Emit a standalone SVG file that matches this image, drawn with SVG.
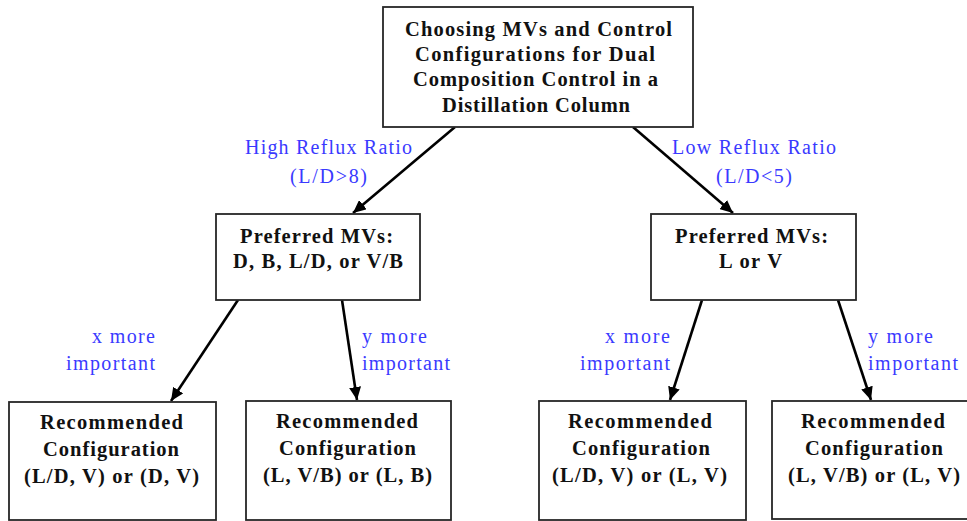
<svg xmlns="http://www.w3.org/2000/svg" width="967" height="521" viewBox="0 0 967 521">
<defs>
<style>
.box{fill:#fff;stroke:#262626;stroke-width:1.8}
.t{font-family:"Liberation Serif","Times New Roman",serif;font-weight:bold;font-size:20.5px;fill:#111;text-anchor:middle}
.l{font-family:"Liberation Serif","Times New Roman",serif;font-size:20px;fill:#3a3aff}
.c{stroke:#000;stroke-width:2.6;fill:none;marker-end:url(#ah)}
</style>
<marker id="ah" markerUnits="userSpaceOnUse" markerWidth="14" markerHeight="12" refX="13" refY="6" orient="auto">
<path d="M0,0 L13,6 L0,12 z" fill="#000"/>
</marker>
</defs>
<rect width="967" height="521" fill="#fff"/>
<g id="connectors">
<line class="c" x1="455" y1="127" x2="353" y2="213"/>
<line class="c" x1="633" y1="127" x2="733" y2="213"/>
<line class="c" x1="238" y1="300" x2="171" y2="401"/>
<line class="c" x1="342" y1="300" x2="357" y2="400"/>
<line class="c" x1="702" y1="300" x2="670" y2="400"/>
<line class="c" x1="838" y1="300" x2="871" y2="400"/>
</g>
<g id="labels">
<text class="l" x="245" y="154" textLength="167" lengthAdjust="spacing">High Reflux Ratio</text>
<text class="l" x="290" y="183" textLength="77" lengthAdjust="spacing">(L/D&gt;8)</text>
<text class="l" x="672" y="154" textLength="164" lengthAdjust="spacing">Low Reflux Ratio</text>
<text class="l" x="716" y="183" textLength="76" lengthAdjust="spacing">(L/D&lt;5)</text>
<text class="l" x="92" y="343" textLength="63" lengthAdjust="spacing">x more</text>
<text class="l" x="66" y="370" textLength="89" lengthAdjust="spacing">important</text>
<text class="l" x="362" y="343" textLength="65" lengthAdjust="spacing">y more</text>
<text class="l" x="362" y="370" textLength="88" lengthAdjust="spacing">important</text>
<text class="l" x="605" y="343" textLength="65" lengthAdjust="spacing">x more</text>
<text class="l" x="580" y="370" textLength="90" lengthAdjust="spacing">important</text>
<text class="l" x="868" y="343" textLength="65" lengthAdjust="spacing">y more</text>
<text class="l" x="868" y="370" textLength="90" lengthAdjust="spacing">important</text>
</g>
<g id="top">
<rect class="box" x="383" y="7" width="310" height="120"/>
<text class="t" x="538.5" y="36" textLength="267" lengthAdjust="spacing">Choosing MVs and Control</text>
<text class="t" x="535" y="61" textLength="240" lengthAdjust="spacing">Configurations for Dual</text>
<text class="t" x="535.5" y="86" textLength="245" lengthAdjust="spacing">Composition Control in a</text>
<text class="t" x="536" y="112" textLength="188" lengthAdjust="spacing">Distillation Column</text>
</g>
<g id="mid-left">
<rect class="box" x="216" y="214" width="204" height="86"/>
<text class="t" x="316.5" y="243" textLength="153" lengthAdjust="spacing">Preferred MVs:</text>
<text class="t" x="318" y="268" textLength="170" lengthAdjust="spacing">D, B, L/D, or V/B</text>
</g>
<g id="mid-right">
<rect class="box" x="651" y="214" width="205" height="86"/>
<text class="t" x="751.5" y="243" textLength="153" lengthAdjust="spacing">Preferred MVs:</text>
<text class="t" x="750.5" y="268" textLength="63" lengthAdjust="spacing">L or V</text>
</g>
<g id="rec1">
<rect class="box" x="9" y="402" width="207" height="118"/>
<text class="t" x="111.5" y="429" textLength="143" lengthAdjust="spacing">Recommended</text>
<text class="t" x="111" y="456" textLength="136" lengthAdjust="spacing">Configuration</text>
<text class="t" x="111.5" y="483" textLength="175" lengthAdjust="spacing">(L/D, V) or (D, V)</text>
</g>
<g id="rec2">
<rect class="box" x="246" y="401" width="205" height="119"/>
<text class="t" x="347" y="428" textLength="142" lengthAdjust="spacing">Recommended</text>
<text class="t" x="347.5" y="455" textLength="137" lengthAdjust="spacing">Configuration</text>
<text class="t" x="347.5" y="482" textLength="169" lengthAdjust="spacing">(L, V/B) or (L, B)</text>
</g>
<g id="rec3">
<rect class="box" x="539" y="401" width="207" height="119"/>
<text class="t" x="640" y="428" textLength="144" lengthAdjust="spacing">Recommended</text>
<text class="t" x="641" y="455" textLength="138" lengthAdjust="spacing">Configuration</text>
<text class="t" x="639.5" y="482" textLength="175" lengthAdjust="spacing">(L/D, V) or (L, V)</text>
</g>
<g id="rec4">
<rect class="box" x="772" y="401" width="200" height="118"/>
<text class="t" x="873" y="428" textLength="144" lengthAdjust="spacing">Recommended</text>
<text class="t" x="874" y="455" textLength="138" lengthAdjust="spacing">Configuration</text>
<text class="t" x="874" y="482" textLength="172" lengthAdjust="spacing">(L, V/B) or (L, V)</text>
</g>
</svg>
